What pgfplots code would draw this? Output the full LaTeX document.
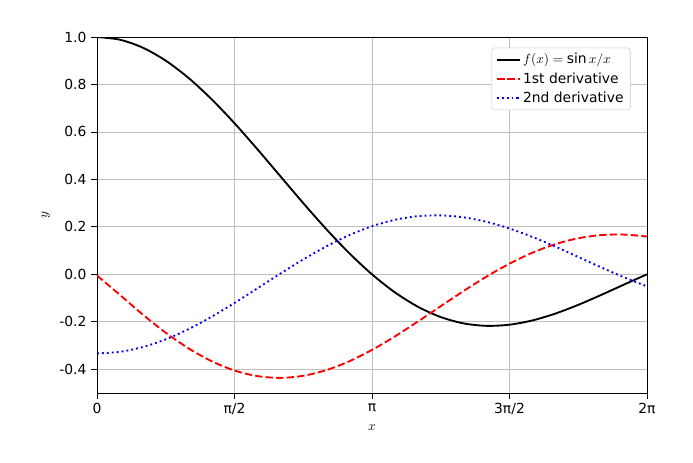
\documentclass[border=0pt]{standalone}
\usepackage{fontspec}
\setmainfont{DejaVu Sans}
\usepackage{pgfplots}
\pgfplotsset{compat=1.18}
\usepackage{pgfplotstable}
\pgfplotstableread{
x f d1 d2
0.00000 1.00000 -0.00500 -0.33333
0.26180 0.98862 -0.08667 -0.32651
0.52360 0.95493 -0.16979 -0.30638
0.78540 0.90032 -0.24600 -0.27389
1.04720 0.82699 -0.31225 -0.23064
1.30900 0.73791 -0.36600 -0.17871
1.57080 0.63662 -0.40528 -0.12060
1.83260 0.52708 -0.42885 -0.05906
2.09440 0.41350 -0.43616 0.00300
2.35619 0.30011 -0.42748 0.06275
2.61799 0.19099 -0.40375 0.11745
2.87979 0.08988 -0.36663 0.16474
3.14159 0.00000 -0.31831 0.20264
3.40339 -0.07605 -0.26147 0.22970
3.66519 -0.13642 -0.19907 0.24505
3.92699 -0.18006 -0.13421 0.24841
4.18879 -0.20675 -0.07001 0.24018
4.45059 -0.21703 -0.00939 0.22125
4.71239 -0.21221 0.04503 0.19310
4.97419 -0.19419 0.09107 0.15757
5.23599 -0.16540 0.12708 0.11686
5.49779 -0.12862 0.15201 0.07332
5.75959 -0.08681 0.16543 0.02936
6.02139 -0.04298 0.16755 -0.01267
6.28319 0.00000 0.15915 -0.05066
}\data
\begin{document}
\fontsize{10.4}{12}\selectfont
\begin{tikzpicture}
\begin{axis}[name=ax, scale only axis, width=412.5pt, height=267pt,
  xmin=0, xmax=6.28319, ymin=-0.5, ymax=1.0,
  xtick={0,1.5708,3.14159,4.71239,6.28319},
  xticklabels={0,π/2,π,3π/2,2π},
  ytick={-0.4,-0.2,0,0.2,0.4,0.6,0.8,1.0},
  yticklabel style={/pgf/number format/.cd,fixed,fixed zerofill,precision=1},
  /pgf/number format/assume math mode=true,
  tick label style={font=\fontsize{10.4}{12}\selectfont},
  label style={font=\fontsize{10.4}{12}\selectfont},
  xlabel={$x$}, ylabel={$y$},
  grid=major, grid style={gray!50, line width=0.6pt},
  tick align=outside, tick style={black, line width=0.6pt},
  xtick pos=bottom, ytick pos=left,
  axis line style={line width=0.6pt},
  legend pos=north east,
  legend style={font=\fontsize{10.4}{12}\selectfont, draw=gray!40, rounded corners=2pt, row sep=1pt},
  legend cell align=left,
  every axis plot/.append style={line width=1.4pt, smooth},
]
\addplot[black] table[x=x,y=f]{\data};
\addlegendentry{$f(x) = \sin x / x$}
\addplot[red, dash pattern=on 5.5pt off 2.4pt] table[x=x,y=d1]{\data};
\addlegendentry{1st derivative}
\addplot[blue, dash pattern=on 1.4pt off 2.3pt] table[x=x,y=d2]{\data};
\addlegendentry{2nd derivative}
\end{axis}
\pgfresetboundingbox
\path (ax.south west) ++(-72.75pt,-51.75pt) coordinate (a);
\path (ax.north east) ++(34.5pt,27.75pt) coordinate (b);
\path[use as bounding box] (a) rectangle (b);
\end{tikzpicture}
\end{document}
